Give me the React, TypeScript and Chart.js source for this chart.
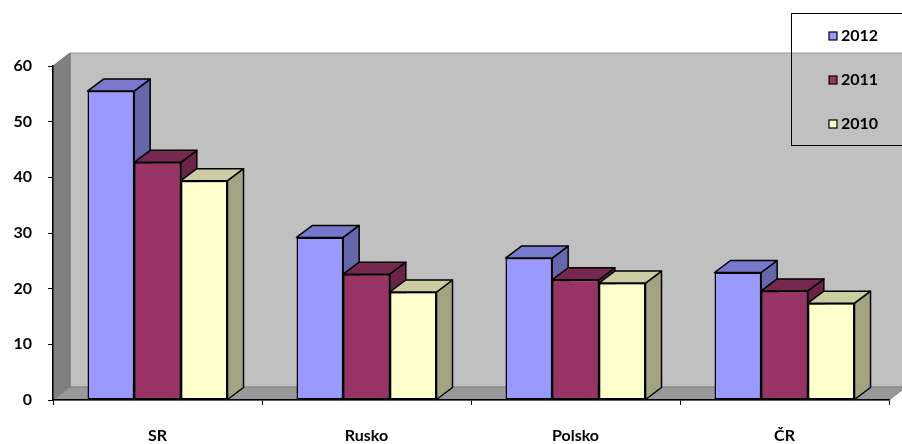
import React, { useEffect, useRef } from "react";
import { Chart, registerables } from "chart.js";

Chart.register(...registerables);

// Categories and series
const countries = ["SR", "Rusko", "Polsko", "ČR"];
const seriesNames = ["2012", "2011", "2010"];
const values2012 = [55.5, 29.2, 25.5, 22.9];
const values2011 = [42.7, 22.6, 21.6, 19.6];
const values2010 = [39.4, 19.4, 21.0, 17.4];
const yMin = 0;
const yMax = 60;
const yStep = 10;

// Face colours for each series: front, top, side
const frontColors = ["#9999FF", "#993366", "#FFFFCC"];
const topColors = ["#7777CC", "#772850", "#CCCCA3"];
const sideColors = ["#6666AA", "#6A2346", "#A3A382"];

const FONT = "Lato, 'Liberation Sans', sans-serif";
const FONT_SIZE = 16;

// Depth offsets for the walls and for the bars
const WALL_DX = 17;
const WALL_DY = -13;
const BAR_DX = 16;
const BAR_DY = -12;

function poly(ctx: CanvasRenderingContext2D, pts: number[][], fill: string, stroke?: string, lw = 1) {
  ctx.beginPath();
  ctx.moveTo(pts[0][0], pts[0][1]);
  for (let i = 1; i < pts.length; i++) ctx.lineTo(pts[i][0], pts[i][1]);
  ctx.closePath();
  ctx.fillStyle = fill;
  ctx.fill();
  if (stroke) {
    ctx.strokeStyle = stroke;
    ctx.lineWidth = lw;
    ctx.lineJoin = "round";
    ctx.stroke();
  }
}

const wallsPlugin = {
  id: "walls3d",
  beforeDraw(chart: any) {
    const { ctx, chartArea } = chart;
    const { left, right, top, bottom } = chartArea;
    ctx.save();
    // back wall
    poly(ctx, [
      [left + WALL_DX, top + WALL_DY],
      [right + WALL_DX + 40, top + WALL_DY],
      [right + WALL_DX + 40, bottom + WALL_DY],
      [left + WALL_DX, bottom + WALL_DY],
    ], "#C0C0C0", "#9A9A9A", 1);
    // side wall
    poly(ctx, [
      [left, top],
      [left + WALL_DX, top + WALL_DY],
      [left + WALL_DX, bottom + WALL_DY],
      [left, bottom],
    ], "#808080", "#707070", 1);
    // floor
    poly(ctx, [
      [left, bottom],
      [left + WALL_DX, bottom + WALL_DY],
      [right + WALL_DX, bottom + WALL_DY],
      [right, bottom],
    ], "#999999", "#808080", 1);
    ctx.restore();
  },
};

const barsPlugin = {
  id: "bars3d",
  beforeDatasetsDraw(chart: any) {
    const { ctx } = chart;
    const n = chart.data.labels.length;
    ctx.save();
    for (let j = 0; j < n; j++) {
      for (let i = 0; i < chart.data.datasets.length; i++) {
        const el = chart.getDatasetMeta(i).data[j];
        if (!el) continue;
        const p = el.getProps(["x", "y", "base", "width"], true);
        const l = p.x - p.width / 2;
        const r = p.x + p.width / 2;
        const t = p.y;
        const b = p.base;
        poly(ctx, [[r, t], [r + BAR_DX, t + BAR_DY], [r + BAR_DX, b + BAR_DY], [r, b]], sideColors[i], "#000", 1.5);
        poly(ctx, [[l, t], [l + BAR_DX, t + BAR_DY], [r + BAR_DX, t + BAR_DY], [r, t]], topColors[i], "#000", 1.5);
      }
    }
    ctx.restore();
  },
};

const legendPlugin = {
  id: "boxLegend",
  afterDraw(chart: any) {
    const { ctx } = chart;
    ctx.save();
    ctx.strokeStyle = "#000";
    ctx.lineWidth = 1;
    ctx.strokeRect(791.5, 13.5, 200, 132);
    ctx.font = `bold ${FONT_SIZE}px ${FONT}`;
    ctx.textBaseline = "middle";
    ctx.textAlign = "left";
    const rows = [36, 80, 124];
    seriesNames.forEach((name, i) => {
      const cy = rows[i];
      ctx.fillStyle = frontColors[i];
      ctx.fillRect(829, cy - 4, 8, 8);
      ctx.strokeStyle = "#000";
      ctx.lineWidth = 1.2;
      ctx.strokeRect(829, cy - 4, 8, 8);
      ctx.fillStyle = "#000";
      ctx.fillText(name, 841, cy);
    });
    ctx.restore();
  },
};

export default function App() {
  const canvasRef = useRef<HTMLCanvasElement | null>(null);

  useEffect(() => {
    const canvas = canvasRef.current;
    if (!canvas) return;
    const seriesValues = [values2012, values2011, values2010];
    const chart = new Chart(canvas, {
      type: "bar",
      data: {
        labels: countries,
        datasets: seriesNames.map((name, i) => ({
          label: name,
          data: seriesValues[i],
          backgroundColor: frontColors[i],
          borderColor: "#000",
          borderWidth: 1.5,
          borderSkipped: false,
          categoryPercentage: 0.67,
          barPercentage: 1.0,
        })),
      },
      options: {
        responsive: false,
        animation: false,
        events: [],
        layout: { padding: { top: 66, right: 13, left: 0, bottom: 0 } },
        plugins: {
          legend: { display: false },
          tooltip: { enabled: false },
          title: { display: false },
        },
        scales: {
          x: {
            grid: {
              display: true,
              drawOnChartArea: false,
              drawTicks: true,
              tickLength: 5,
              color: "#000",
              lineWidth: 1,
              offset: true,
            },
            border: { display: true, color: "#000", width: 1.5 },
            ticks: {
              color: "#000",
              font: { family: FONT, size: FONT_SIZE, weight: "bold" },
              padding: 21,
              maxRotation: 0,
            },
            afterFit(scale: any) {
              scale.height = 44;
            },
          },
          y: {
            min: yMin,
            max: yMax,
            grid: {
              display: true,
              drawOnChartArea: false,
              drawTicks: true,
              tickLength: 5,
              color: "#000",
              lineWidth: 1,
            },
            border: { display: true, color: "#000", width: 1.5 },
            ticks: {
              stepSize: yStep,
              color: "#000",
              font: { family: FONT, size: FONT_SIZE, weight: "bold" },
              padding: 16,
            },
            afterFit(scale: any) {
              scale.width = 53;
            },
          },
        },
      },
      plugins: [wallsPlugin, barsPlugin, legendPlugin],
    });

    const fonts = (document as any).fonts;
    if (fonts && fonts.load) {
      fonts.load(`bold ${FONT_SIZE}px Lato`).then(() => chart.update()).catch(() => {});
    }

    return () => chart.destroy();
  }, []);

  return (
    <div style={{ position: "fixed", left: 0, top: 0, width: 902, height: 444, background: "#fff" }}>
      <canvas ref={canvasRef} width={902} height={444} style={{ display: "block" }} />
    </div>
  );
}
